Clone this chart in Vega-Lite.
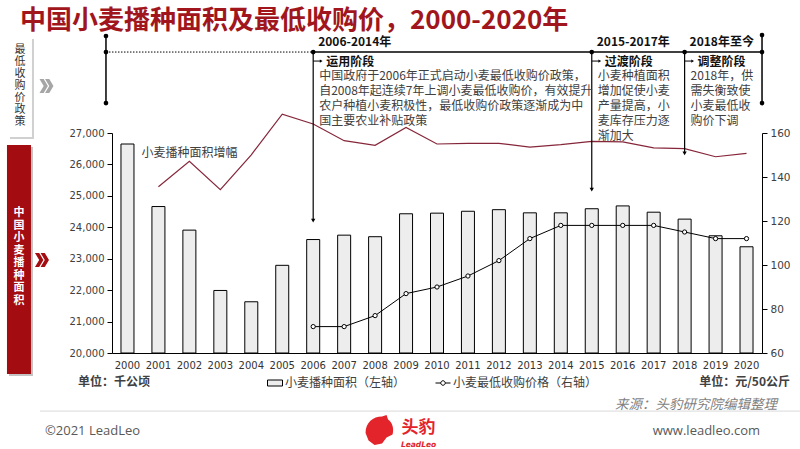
{
  "$schema": "https://vega.github.io/schema/vega-lite/v6.json",
  "width": 650,
  "height": 220,
  "autosize": {"type": "none"},
  "padding": {"left": 112, "top": 133, "right": 38, "bottom": 96},
  "background": "white",
  "title": {
    "text": "中国小麦播种面积及最低收购价，2000-2020年",
    "anchor": "start",
    "frame": "group",
    "dx": -92,
    "offset": -9,
    "font": "Noto Sans CJK SC",
    "fontSize": 26,
    "fontWeight": "bold",
    "color": "#a0161c"
  },
  "config": {
    "view": {"stroke": null},
    "text": {"font": "Noto Sans CJK SC"}
  },
  "datasets": {
    "area": [
      {"year": "2000", "area": 26650}, {"year": "2001", "area": 24660}, {"year": "2002", "area": 23910},
      {"year": "2003", "area": 21990}, {"year": "2004", "area": 21630}, {"year": "2005", "area": 22790},
      {"year": "2006", "area": 23610}, {"year": "2007", "area": 23750}, {"year": "2008", "area": 23700},
      {"year": "2009", "area": 24430}, {"year": "2010", "area": 24450}, {"year": "2011", "area": 24510},
      {"year": "2012", "area": 24560}, {"year": "2013", "area": 24460}, {"year": "2014", "area": 24460},
      {"year": "2015", "area": 24590}, {"year": "2016", "area": 24680}, {"year": "2017", "area": 24480},
      {"year": "2018", "area": 24260}, {"year": "2019", "area": 23730}, {"year": "2020", "area": 23380}
    ],
    "price": [
      {"year": "2006", "price": 72}, {"year": "2007", "price": 72}, {"year": "2008", "price": 77},
      {"year": "2009", "price": 87}, {"year": "2010", "price": 90}, {"year": "2011", "price": 95},
      {"year": "2012", "price": 102}, {"year": "2013", "price": 112}, {"year": "2014", "price": 118},
      {"year": "2015", "price": 118}, {"year": "2016", "price": 118}, {"year": "2017", "price": 118},
      {"year": "2018", "price": 115}, {"year": "2019", "price": 112}, {"year": "2020", "price": 112}
    ],
    "growth": [
      {"year": "2001", "growth": 135.6}, {"year": "2002", "growth": 147.1}, {"year": "2003", "growth": 134.2},
      {"year": "2004", "growth": 150.1}, {"year": "2005", "growth": 168.6}, {"year": "2006", "growth": 164.1},
      {"year": "2007", "growth": 156.5}, {"year": "2008", "growth": 154.4}, {"year": "2009", "growth": 162.5},
      {"year": "2010", "growth": 155.0}, {"year": "2011", "growth": 155.3}, {"year": "2012", "growth": 155.3},
      {"year": "2013", "growth": 153.6}, {"year": "2014", "growth": 154.7}, {"year": "2015", "growth": 156.2},
      {"year": "2016", "growth": 156.0}, {"year": "2017", "growth": 153.2}, {"year": "2018", "growth": 152.9},
      {"year": "2019", "growth": 149.2}, {"year": "2020", "growth": 150.7}
    ],
    "stages": [
      {"year": "2006", "period": "2006-2014年", "stage": "运用阶段", "note": "中国政府于2006年正式启动小麦最低收购价政策，\n自2008年起连续7年上调小麦最低收购价，有效提升\n农户种植小麦积极性，最低收购价政策逐渐成为中\n国主要农业补贴政策"},
      {"year": "2015", "period": "2015-2017年", "stage": "过渡阶段", "note": "小麦种植面积\n增加促使小麦\n产量提高，小\n麦库存压力逐\n渐加大"},
      {"year": "2018", "period": "2018年至今", "stage": "调整阶段", "note": "2018年，供\n需失衡致使\n小麦最低收\n购价下调"}
    ],
    "one": [{}]
  },
  "layer": [
    {
      "data": {"name": "area"},
      "mark": {"type": "bar", "stroke": "#000000", "strokeWidth": 1},
      "encoding": {
        "x": {
          "field": "year", "type": "ordinal",
          "scale": {"paddingInner": 0.58, "paddingOuter": 0.29},
          "axis": {"title": null, "labelAngle": 0, "ticks": false, "domainColor": "#000000", "labelFont": "DejaVu Sans", "labelFontSize": 10, "labelColor": "#333333", "labelPadding": 7}
        },
        "y": {
          "field": "area", "type": "quantitative",
          "scale": {"domain": [20000, 27000], "nice": false, "zero": false},
          "axis": {"title": null, "values": [20000, 21000, 22000, 23000, 24000, 25000, 26000, 27000], "format": ",d", "grid": false, "tickSize": 5, "tickColor": "#000000", "domainColor": "#000000", "labelPadding": 3, "labelFont": "DejaVu Sans", "labelFontSize": 10, "labelColor": "#404040"}
        },
        "y2": {"datum": 20000},
        "fill": {
          "datum": "小麦播种面积（左轴）",
          "scale": {"range": ["#ededed"]},
          "legend": {"orient": "none", "legendX": 155, "legendY": 242, "title": null, "padding": 0, "symbolType": "M-1,-0.4H1V0.4H-1Z", "symbolSize": 225, "symbolStrokeColor": "#000000", "symbolStrokeWidth": 1, "symbolFillColor": "#ffffff", "labelFont": "Noto Sans CJK SC", "labelFontSize": 12, "labelColor": "#404040", "labelOffset": 2}
        }
      }
    },
    {
      "layer": [
        {
          "data": {"name": "price"},
          "mark": {"type": "line", "strokeWidth": 1},
          "encoding": {
            "x": {"field": "year", "type": "ordinal"},
            "y": {
              "field": "price", "type": "quantitative",
              "scale": {"domain": [60, 160], "nice": false, "zero": false},
              "axis": {"orient": "right", "title": null, "values": [60, 80, 100, 120, 140, 160], "grid": false, "tickSize": 5, "tickColor": "#000000", "domainColor": "#000000", "labelPadding": 3, "labelFont": "DejaVu Sans", "labelFontSize": 10.5, "labelColor": "#404040"}
            },
            "stroke": {
              "datum": "小麦最低收购价格（右轴）",
              "scale": {"range": ["#000000"]},
              "legend": {"orient": "none", "legendX": 323, "legendY": 242, "title": null, "padding": 0, "symbolType": "M-1,0H-0.3M0.3,0H1M-0.3,0A0.3,0.3 0 1,1 0.3,0A0.3,0.3 0 1,1 -0.3,0", "symbolSize": 225, "symbolStrokeColor": "#000000", "symbolStrokeWidth": 1, "symbolFillColor": "#ffffff", "labelFont": "Noto Sans CJK SC", "labelFontSize": 12, "labelColor": "#404040", "labelOffset": 2}
            }
          }
        },
        {
          "data": {"name": "growth"},
          "mark": {"type": "line", "color": "#86263a", "strokeWidth": 1.2},
          "encoding": {
            "x": {"field": "year", "type": "ordinal"},
            "y": {"field": "growth", "type": "quantitative"}
          }
        },
        {
          "data": {"name": "price"},
          "mark": {"type": "point", "filled": true, "fill": "#ffffff", "stroke": "#000000", "strokeWidth": 1, "size": 18, "opacity": 1},
          "encoding": {
            "x": {"field": "year", "type": "ordinal"},
            "y": {"field": "price", "type": "quantitative"}
          }
        },
        {
          "data": {"name": "one"},
          "mark": {"type": "text", "text": "小麦播种面积增幅", "align": "left", "baseline": "middle", "dx": 14, "fontSize": 12, "color": "#404040"},
          "encoding": {"x": {"datum": "2000", "type": "ordinal"}, "y": {"datum": 150.8, "type": "quantitative"}}
        },
        {
          "data": {"name": "one"},
          "mark": {"type": "rule", "color": "#000000", "strokeWidth": 1.5, "xOffset": -21.5},
          "encoding": {"x": {"datum": "2000", "type": "ordinal"}, "y": {"datum": 204.1, "type": "quantitative"}, "y2": {"datum": 173.6}}
        },
        {
          "data": {"name": "one"},
          "mark": {"type": "rule", "color": "#000000", "strokeWidth": 1.5, "xOffset": 15.5},
          "encoding": {"x": {"datum": "2020", "type": "ordinal"}, "y": {"datum": 204.5, "type": "quantitative"}, "y2": {"datum": 173.6}}
        },
        {
          "data": {"name": "one"},
          "mark": {"type": "rule", "color": "#000000", "strokeWidth": 1, "strokeDash": [1.5, 1.5], "xOffset": -21.5},
          "encoding": {"x": {"datum": "2000", "type": "ordinal"}, "x2": {"datum": "2006"}, "y": {"datum": 196.8, "type": "quantitative"}}
        },
        {
          "data": {"name": "one"},
          "mark": {"type": "rule", "color": "#000000", "strokeWidth": 1.5, "x2Offset": 15.5},
          "encoding": {"x": {"datum": "2006", "type": "ordinal"}, "x2": {"datum": "2020"}, "y": {"datum": 196.8, "type": "quantitative"}}
        },
        {
          "data": {"name": "one"},
          "mark": {"type": "point", "filled": true, "color": "#000000", "size": 22, "opacity": 1, "xOffset": -21.5},
          "encoding": {"x": {"datum": "2000", "type": "ordinal"}, "y": {"datum": 204.1, "type": "quantitative"}}
        },
        {
          "data": {"name": "one"},
          "mark": {"type": "point", "filled": true, "color": "#000000", "size": 22, "opacity": 1, "xOffset": -21.5},
          "encoding": {"x": {"datum": "2000", "type": "ordinal"}, "y": {"datum": 196.8, "type": "quantitative"}}
        },
        {
          "data": {"name": "one"},
          "mark": {"type": "point", "filled": true, "color": "#000000", "size": 22, "opacity": 1, "xOffset": -21.5},
          "encoding": {"x": {"datum": "2000", "type": "ordinal"}, "y": {"datum": 173.6, "type": "quantitative"}}
        },
        {
          "data": {"name": "one"},
          "mark": {"type": "point", "filled": true, "color": "#000000", "size": 22, "opacity": 1, "xOffset": 15.5},
          "encoding": {"x": {"datum": "2020", "type": "ordinal"}, "y": {"datum": 204.5, "type": "quantitative"}}
        },
        {
          "data": {"name": "one"},
          "mark": {"type": "point", "filled": true, "color": "#000000", "size": 22, "opacity": 1, "xOffset": 15.5},
          "encoding": {"x": {"datum": "2020", "type": "ordinal"}, "y": {"datum": 196.8, "type": "quantitative"}}
        },
        {
          "data": {"name": "one"},
          "mark": {"type": "point", "filled": true, "color": "#000000", "size": 22, "opacity": 1, "xOffset": 15.5},
          "encoding": {"x": {"datum": "2020", "type": "ordinal"}, "y": {"datum": 173.6, "type": "quantitative"}}
        },
        {
          "data": {"name": "one"},
          "mark": {"type": "rule", "color": "#000000", "strokeWidth": 1.2},
          "encoding": {"x": {"datum": "2006", "type": "ordinal"}, "y": {"datum": 196.8, "type": "quantitative"}, "y2": {"datum": 120.2}}
        },
        {
          "data": {"name": "one"},
          "mark": {"type": "rule", "color": "#000000", "strokeWidth": 1.2},
          "encoding": {"x": {"datum": "2015", "type": "ordinal"}, "y": {"datum": 196.8, "type": "quantitative"}, "y2": {"datum": 134.3}}
        },
        {
          "data": {"name": "one"},
          "mark": {"type": "rule", "color": "#000000", "strokeWidth": 1.2},
          "encoding": {"x": {"datum": "2018", "type": "ordinal"}, "y": {"datum": 196.8, "type": "quantitative"}, "y2": {"datum": 150.7}}
        },
        {
          "data": {"name": "one"},
          "mark": {"type": "point", "shape": "triangle-down", "filled": true, "color": "#000000", "size": 18, "opacity": 1},
          "encoding": {"x": {"datum": "2006", "type": "ordinal"}, "y": {"datum": 120.2, "type": "quantitative"}}
        },
        {
          "data": {"name": "one"},
          "mark": {"type": "point", "shape": "triangle-down", "filled": true, "color": "#000000", "size": 18, "opacity": 1},
          "encoding": {"x": {"datum": "2015", "type": "ordinal"}, "y": {"datum": 134.3, "type": "quantitative"}}
        },
        {
          "data": {"name": "one"},
          "mark": {"type": "point", "shape": "triangle-down", "filled": true, "color": "#000000", "size": 18, "opacity": 1},
          "encoding": {"x": {"datum": "2018", "type": "ordinal"}, "y": {"datum": 150.7, "type": "quantitative"}}
        },
        {
          "data": {"name": "stages"},
          "mark": {"type": "point", "filled": true, "color": "#000000", "size": 22, "opacity": 1},
          "encoding": {"x": {"field": "year", "type": "ordinal"}, "y": {"datum": 196.8, "type": "quantitative"}}
        },
        {
          "data": {"name": "stages"},
          "mark": {"type": "rule", "color": "#000000", "strokeWidth": 1, "x2Offset": 7},
          "encoding": {"x": {"field": "year", "type": "ordinal"}, "x2": {"field": "year"}, "y": {"datum": 192.7, "type": "quantitative"}}
        },
        {
          "data": {"name": "stages"},
          "mark": {"type": "point", "shape": "triangle-right", "filled": true, "color": "#000000", "size": 10, "opacity": 1, "xOffset": 8},
          "encoding": {"x": {"field": "year", "type": "ordinal"}, "y": {"datum": 192.7, "type": "quantitative"}}
        },
        {
          "data": {"name": "stages"},
          "mark": {"type": "text", "align": "left", "baseline": "middle", "dx": 5, "fontSize": 12, "fontWeight": "bold", "color": "#111111"},
          "encoding": {"x": {"field": "year", "type": "ordinal"}, "y": {"datum": 201.5, "type": "quantitative"}, "text": {"field": "period"}}
        },
        {
          "data": {"name": "stages"},
          "mark": {"type": "text", "align": "left", "baseline": "middle", "dx": 13, "fontSize": 12, "fontWeight": "bold", "color": "#111111"},
          "encoding": {"x": {"field": "year", "type": "ordinal"}, "y": {"datum": 192.3, "type": "quantitative"}, "text": {"field": "stage"}}
        },
        {
          "data": {"name": "stages"},
          "mark": {"type": "text", "align": "left", "baseline": "top", "dx": 6, "fontSize": 12, "lineHeight": 15, "lineBreak": "\n", "color": "#404040"},
          "encoding": {"x": {"field": "year", "type": "ordinal"}, "y": {"datum": 188.4, "type": "quantitative"}, "text": {"field": "note"}}
        },
        {
          "data": {"name": "one"},
          "mark": {"type": "rule", "color": "#d0d0d0", "strokeWidth": 24, "xOffset": -105.5},
          "encoding": {"x": {"datum": "2000", "type": "ordinal"}, "y": {"datum": 202.7, "type": "quantitative"}, "y2": {"datum": 157.3}}
        },
        {
          "data": {"name": "one"},
          "mark": {"type": "rule", "color": "#ffffff", "strokeWidth": 24, "xOffset": -107.5},
          "encoding": {"x": {"datum": "2000", "type": "ordinal"}, "y": {"datum": 203.6, "type": "quantitative"}, "y2": {"datum": 158.2}}
        },
        {
          "data": {"name": "one"},
          "mark": {"type": "rule", "color": "#c4c4c4", "strokeWidth": 24, "xOffset": -106.5},
          "encoding": {"x": {"datum": "2000", "type": "ordinal"}, "y": {"datum": 153.6, "type": "quantitative"}, "y2": {"datum": 49.6}}
        },
        {
          "data": {"name": "one"},
          "mark": {"type": "rule", "color": "#a30d11", "strokeWidth": 24, "xOffset": -108.5},
          "encoding": {"x": {"datum": "2000", "type": "ordinal"}, "y": {"datum": 154.5, "type": "quantitative"}, "y2": {"datum": 50.5}}
        },
        {
          "data": {"name": "one"},
          "mark": {"type": "text", "text": "最\n低\n收\n购\n价\n政\n策", "lineBreak": "\n", "lineHeight": 12, "align": "center", "baseline": "middle", "fontSize": 11, "color": "#333333", "xOffset": -107.5},
          "encoding": {"x": {"datum": "2000", "type": "ordinal"}, "y": {"datum": 197.7, "type": "quantitative"}}
        },
        {
          "data": {"name": "one"},
          "mark": {"type": "text", "text": "中\n国\n小\n麦\n播\n种\n面\n积", "lineBreak": "\n", "lineHeight": 12.5, "align": "center", "baseline": "middle", "fontSize": 11, "fontWeight": "bold", "color": "#ffffff", "xOffset": -108.5},
          "encoding": {"x": {"datum": "2000", "type": "ordinal"}, "y": {"datum": 123.6, "type": "quantitative"}}
        },
        {
          "data": {"name": "one"},
          "mark": {"type": "point", "shape": "M-1,-1L-0.4,-1L0.2,0L-0.4,1L-1,1L-0.4,0ZM-0.2,-1L0.4,-1L1,0L0.4,1L-0.2,1L0.4,0Z", "filled": true, "color": "#a6a6a6", "size": 196, "opacity": 1, "xOffset": -81},
          "encoding": {"x": {"datum": "2000", "type": "ordinal"}, "y": {"datum": 181.4, "type": "quantitative"}}
        },
        {
          "data": {"name": "one"},
          "mark": {"type": "point", "shape": "M-1,-1L-0.4,-1L0.2,0L-0.4,1L-1,1L-0.4,0ZM-0.2,-1L0.4,-1L1,0L0.4,1L-0.2,1L0.4,0Z", "filled": true, "color": "#a30d11", "size": 196, "opacity": 1, "xOffset": -85.5},
          "encoding": {"x": {"datum": "2000", "type": "ordinal"}, "y": {"datum": 102.3, "type": "quantitative"}}
        },
        {
          "data": {"name": "one"},
          "mark": {"type": "text", "text": "单位：千公顷", "align": "left", "baseline": "middle", "dx": -49.5, "fontSize": 12, "fontWeight": "bold", "color": "#404040"},
          "encoding": {"x": {"datum": "2000", "type": "ordinal"}, "y": {"datum": 46.8, "type": "quantitative"}}
        },
        {
          "data": {"name": "one"},
          "mark": {"type": "text", "text": "单位：元/50公斤", "align": "right", "baseline": "middle", "dx": 43.5, "fontSize": 12, "fontWeight": "bold", "color": "#404040"},
          "encoding": {"x": {"datum": "2020", "type": "ordinal"}, "y": {"datum": 46.8, "type": "quantitative"}}
        },
        {
          "data": {"name": "one"},
          "mark": {"type": "text", "text": "来源：头豹研究院编辑整理", "align": "right", "baseline": "middle", "dx": 30.5, "fontSize": 13.5, "fontStyle": "italic", "color": "#7f7f7f"},
          "encoding": {"x": {"datum": "2020", "type": "ordinal"}, "y": {"datum": 36.4, "type": "quantitative"}}
        },
        {
          "data": {"name": "one"},
          "mark": {"type": "rule", "color": "#d9d9d9", "strokeWidth": 1, "xOffset": -87.5, "x2Offset": 53.5},
          "encoding": {"x": {"datum": "2000", "type": "ordinal"}, "x2": {"datum": "2020"}, "y": {"datum": 33.6, "type": "quantitative"}}
        },
        {
          "data": {"name": "one"},
          "mark": {"type": "text", "text": "©2021 LeadLeo", "align": "left", "baseline": "middle", "dx": -82.5, "font": "Open Sans", "fontSize": 13, "color": "#595959"},
          "encoding": {"x": {"datum": "2000", "type": "ordinal"}, "y": {"datum": 24.5, "type": "quantitative"}}
        },
        {
          "data": {"name": "one"},
          "mark": {"type": "text", "text": "www.leadleo.com", "align": "right", "baseline": "middle", "dx": 13.5, "font": "Open Sans", "fontSize": 13, "color": "#595959"},
          "encoding": {"x": {"datum": "2020", "type": "ordinal"}, "y": {"datum": 24.5, "type": "quantitative"}}
        },
        {
          "data": {"name": "one"},
          "mark": {"type": "point", "shape": "M-0.9,0.2C-0.9,-0.5 -0.4,-0.9 0.2,-0.9L0.5,-1L0.6,-0.7C0.9,-0.5 1,-0.1 0.9,0.3L0.5,0.5L0.2,0.9L-0.3,1L-0.7,0.7Z", "filled": true, "color": "#e3242b", "size": 900, "opacity": 1, "xOffset": -27},
          "encoding": {"x": {"datum": "2009", "type": "ordinal"}, "y": {"datum": 25.0, "type": "quantitative"}}
        },
        {
          "data": {"name": "one"},
          "mark": {"type": "text", "text": "头豹", "align": "center", "baseline": "middle", "dx": 12.5, "fontSize": 17, "fontWeight": "bold", "color": "#e3242b"},
          "encoding": {"x": {"datum": "2009", "type": "ordinal"}, "y": {"datum": 25.9, "type": "quantitative"}}
        },
        {
          "data": {"name": "one"},
          "mark": {"type": "text", "text": "LeadLeo", "align": "center", "baseline": "middle", "dx": 12.5, "font": "DejaVu Sans", "fontSize": 7.5, "fontWeight": "bold", "fontStyle": "italic", "color": "#e3242b"},
          "encoding": {"x": {"datum": "2009", "type": "ordinal"}, "y": {"datum": 18.4, "type": "quantitative"}}
        }
      ]
    }
  ],
  "resolve": {"scale": {"y": "independent"}}
}
